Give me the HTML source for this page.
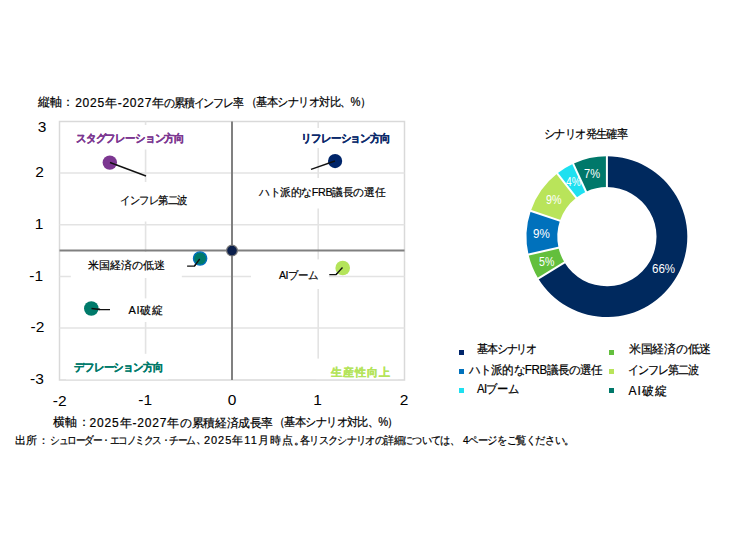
<!DOCTYPE html>
<html><head><meta charset="utf-8">
<style>
html,body{margin:0;padding:0;background:#fff;}
body{width:735px;height:551px;position:relative;overflow:hidden;font-family:"Liberation Sans",sans-serif;color:#000;}
svg{position:absolute;left:0;top:0;}
.t{position:absolute;white-space:nowrap;line-height:1;transform-origin:0 0;-webkit-text-stroke:0.2px currentColor;}
.b{font-weight:bold;-webkit-text-stroke:0.25px currentColor;}
.w{color:#fff;-webkit-text-stroke:0;}
.n{-webkit-text-stroke:0;}
</style></head><body>
<svg width="735" height="551" viewBox="0 0 735 551">
  <!-- plot border -->
  <rect x="59.5" y="121.5" width="345" height="258.5" fill="#fff" stroke="#d9d9d9" stroke-width="1.5"/>
  <!-- gridlines -->
  <g stroke="#e3e3e3" stroke-width="1.6">
    <line x1="145.6" y1="121.5" x2="145.6" y2="380"/>
    <line x1="318.2" y1="121.5" x2="318.2" y2="380"/>
    <line x1="59.5" y1="173" x2="404.5" y2="173"/>
    <line x1="59.5" y1="224.7" x2="404.5" y2="224.7"/>
    <line x1="59.5" y1="276.5" x2="404.5" y2="276.5"/>
    <line x1="59.5" y1="328" x2="404.5" y2="328"/>
  </g>
  <!-- label white boxes -->
  <g fill="#fff">
    <rect x="72" y="125" width="116" height="24.5"/>
    <rect x="296" y="128" width="96" height="20"/>
    <rect x="254" y="178" width="136" height="30.5"/>
    <rect x="116" y="182" width="76" height="39.5"/>
    <rect x="70.8" y="252" width="111" height="26"/>
    <rect x="251" y="259.4" width="77.8" height="29.6"/>
    <rect x="122" y="298.4" width="46" height="23.6"/>
    <rect x="66" y="353.8" width="102" height="25.5"/>
    <rect x="316" y="358.6" width="82" height="20.5"/>
  </g>
  <!-- axes -->
  <g stroke="#808080" stroke-width="2">
    <line x1="232" y1="121.5" x2="232" y2="380"/>
    <line x1="59.5" y1="250.6" x2="404.5" y2="250.6"/>
  </g>
  <!-- leader lines -->
  <g stroke="#111" stroke-width="1.35" fill="none">
    <line x1="110" y1="162.5" x2="146" y2="176"/>
    <line x1="335" y1="161" x2="311" y2="169.3"/>
    <polyline points="342.5,267.5 336,274.6 329.3,274.6"/>
    <polyline points="199.7,259 194.4,266.1 187.1,266.1"/>
    <polyline points="91.5,308.5 100,309.5 110,309.7"/>
  </g>
  <!-- dots -->
  <circle cx="109.8" cy="162.6" r="7.2" fill="#7c3791"/>
  <circle cx="335.1" cy="161.1" r="7.1" fill="#00256a"/>
  <circle cx="342.7" cy="268" r="7.3" fill="#b4e45a"/>
  <circle cx="200.1" cy="258.5" r="6.6" fill="#007a6a" stroke="#0070c0" stroke-width="1.4"/>
  <circle cx="91.3" cy="308.5" r="7.25" fill="#007a6a"/>
  <circle cx="232" cy="250.6" r="5.4" fill="#0b1f4b" stroke="#7a7a7a" stroke-width="1.2"/>
  <!-- redraw leader segments over dots -->
  <g stroke="#111" stroke-width="1.35" fill="none">
    <line x1="110" y1="162.5" x2="117" y2="165.1"/>
    <line x1="335" y1="161" x2="328" y2="163.4"/>
    <polyline points="342.5,267.5 336,274.6"/>
    <polyline points="199.7,259 194.4,266.1"/>
    <polyline points="91.5,308.5 100,309.5"/>
  </g>
  <!-- donut -->
  <g id="donut">
<path d="M606.90,156.30A80.4,80.4 0 1 1 538.22,278.49L564.53,262.48A49.6,49.6 0 1 0 606.90,187.10Z" fill="#00295e"/>
<path d="M538.22,278.49A80.4,80.4 0 0 1 528.51,254.58L558.54,247.73A49.6,49.6 0 0 0 564.53,262.48Z" fill="#63bf3d"/>
<path d="M528.51,254.58A80.4,80.4 0 0 1 530.75,210.90L559.92,220.78A49.6,49.6 0 0 0 558.54,247.73Z" fill="#0071bc"/>
<path d="M530.75,210.90A80.4,80.4 0 0 1 557.22,173.48L576.25,197.70A49.6,49.6 0 0 0 559.92,220.78Z" fill="#b9e45a"/>
<path d="M557.22,173.48A80.4,80.4 0 0 1 573.13,163.74L586.06,191.69A49.6,49.6 0 0 0 576.25,197.70Z" fill="#1ee0f0"/>
<path d="M573.13,163.74A80.4,80.4 0 0 1 606.90,156.30L606.90,187.10A49.6,49.6 0 0 0 586.06,191.69Z" fill="#00786a"/>
<line x1="606.90" y1="189.10" x2="606.90" y2="154.30" stroke="#fff" stroke-width="2"/>
<line x1="566.24" y1="261.44" x2="536.51" y2="279.53" stroke="#fff" stroke-width="2"/>
<line x1="560.49" y1="247.29" x2="526.56" y2="255.03" stroke="#fff" stroke-width="2"/>
<line x1="561.82" y1="221.42" x2="528.86" y2="210.25" stroke="#fff" stroke-width="2"/>
<line x1="577.49" y1="199.27" x2="555.99" y2="171.91" stroke="#fff" stroke-width="2"/>
<line x1="586.90" y1="193.50" x2="572.28" y2="161.92" stroke="#fff" stroke-width="2"/>
</g>
</svg>

<!-- titles -->
<div class="t" id="t1a" style="left:37.68px;top:96.04px;font-size:12px;letter-spacing:0.400px;">縦軸：</div>
<div class="t" id="t1b" style="left:75.19px;top:96.69px;font-size:12px;letter-spacing:0.760px;">2025年-2027年</div>
<div class="t" id="t1d" style="left:164.04px;top:96.69px;font-size:12px;letter-spacing:-1.195px;transform:scaleX(0.9129);">の累積インフレ率</div>
<div class="t" id="t1c" style="left:245.71px;top:95.89px;font-size:12px;letter-spacing:-0.786px;transform:scaleX(0.9325);">（基本シナリオ対比、%）</div>

<!-- y labels -->
<div class="t n" id="y3" style="left:37.69px;top:119.25px;font-size:15.5px;">3</div>
<div class="t n" id="y2" style="left:35.32px;top:164.48px;font-size:15.5px;">2</div>
<div class="t n" id="y1" style="left:34.79px;top:216.48px;font-size:15.5px;">1</div>
<div class="t n" id="ym1" style="left:29.37px;top:267.73px;font-size:15.5px;">-1</div>
<div class="t n" id="ym2" style="left:30.58px;top:319.25px;font-size:15.5px;">-2</div>
<div class="t n" id="ym3" style="left:30.00px;top:370.75px;font-size:15.5px;">-3</div>

<!-- x labels -->
<div class="t n" id="xm2" style="left:52.77px;top:392.50px;font-size:15.5px;">-2</div>
<div class="t n" id="xm1" style="left:138.26px;top:392.21px;font-size:15.5px;">-1</div>
<div class="t n" id="x0" style="left:227.68px;top:392.21px;font-size:15.5px;">0</div>
<div class="t n" id="x1" style="left:313.16px;top:392.21px;font-size:15.5px;">1</div>
<div class="t n" id="x2" style="left:399.80px;top:392.21px;font-size:15.5px;">2</div>

<div class="t" id="t2a" style="left:53.18px;top:416.04px;font-size:12px;letter-spacing:0.300px;">横軸：</div>
<div class="t" id="t2b" style="left:89.60px;top:416.69px;font-size:12px;letter-spacing:0.830px;">2025年-2027年</div>
<div class="t" id="t2d" style="left:179.79px;top:416.69px;font-size:12px;letter-spacing:-0.201px;transform:scaleX(0.9853);">の累積経済成長率</div>
<div class="t" id="t2c" style="left:274.48px;top:415.89px;font-size:12px;letter-spacing:-0.805px;transform:scaleX(0.9314);">（基本シナリオ対比、%）</div>
<div class="t" id="t3a" style="left:14.89px;top:434.75px;font-size:11px;letter-spacing:0.450px;">出所：</div>
<div class="t" id="t3b" style="left:50.28px;top:435.00px;font-size:11px;letter-spacing:-1.358px;transform:scaleX(0.8826);">シュローダー・エコノミクス・チーム</div>
<div class="t" id="t3f" style="left:196.29px;top:433.50px;font-size:11px;">、</div>
<div class="t" id="t3c" style="left:203.89px;top:434.75px;font-size:11px;letter-spacing:1.000px;">2025年11月時点。</div>
<div class="t" id="t3d" style="left:300.20px;top:434.75px;font-size:11px;letter-spacing:-0.868px;transform:scaleX(0.9229);">各リスクシナリオの詳細については、</div>
<div class="t" id="t3e" style="left:462.70px;top:434.75px;font-size:11px;letter-spacing:-0.709px;transform:scaleX(0.9350);">4ページをご覧ください。</div>

<!-- chart labels -->
<div class="t b" id="l1" style="left:76.14px;top:133.07px;font-size:11px;color:#7c3791;letter-spacing:-0.626px;transform:scaleX(0.9478);">スタグフレーション方向</div>
<div class="t b" id="l2" style="left:300.55px;top:132.79px;font-size:11px;color:#0b2a6b;letter-spacing:-0.589px;transform:scaleX(0.9509);">リフレーション方向</div>
<div class="t" id="l3" style="left:258.78px;top:187.04px;font-size:11px;letter-spacing:-0.240px;transform:scaleX(0.9782);">ハト派的なFRB議長の選任</div>
<div class="t" id="l4" style="left:120.09px;top:195.39px;font-size:11px;letter-spacing:-0.818px;transform:scaleX(0.9354);">インフレ第二波</div>
<div class="t" id="l5" style="left:88.00px;top:259.89px;font-size:11px;letter-spacing:0.017px;">米国経済の低迷</div>
<div class="t" id="l6" style="left:278.78px;top:269.6px;font-size:11px;letter-spacing:-0.486px;transform:scaleX(0.9548);">AIブーム</div>
<div class="t" id="l7" style="left:128.39px;top:305.14px;font-size:11px;letter-spacing:0.800px;">AI破綻</div>
<div class="t b" id="l8" style="left:73.56px;top:361.82px;font-size:11px;color:#007a6a;letter-spacing:-0.615px;transform:scaleX(0.9498);">デフレーション方向</div>
<div class="t b" id="l9" style="left:330.68px;top:367.43px;font-size:11px;color:#b4e45a;letter-spacing:1.075px;">生産性向上</div>

<!-- donut title -->
<div class="t" id="dt" style="left:544.48px;top:128.07px;font-size:12px;letter-spacing:-0.886px;transform:scaleX(0.9347);">シナリオ発生確率</div>

<!-- donut labels -->
<div class="t w" id="p66" style="left:651.85px;top:263.39px;font-size:12px;transform:scaleX(0.9609);">66%</div>
<div class="t w" id="p5" style="left:539.00px;top:256.43px;font-size:12px;transform:scaleX(0.8824);">5%</div>
<div class="t w" id="p9a" style="left:533.31px;top:228.25px;font-size:12px;transform:scaleX(0.9688);">9%</div>
<div class="t w" id="p9b" style="left:546.00px;top:194.39px;font-size:12px;transform:scaleX(0.8941);">9%</div>
<div class="t w" id="p4" style="left:565.57px;top:176.29px;font-size:12px;transform:scaleX(0.8471);">4%</div>
<div class="t w" id="p7" style="left:584.44px;top:168.43px;font-size:12px;transform:scaleX(0.9235);">7%</div>

<!-- legend -->
<div style="position:absolute;left:459px;top:350px;width:5px;height:5px;background:#00256a"></div>
<div style="position:absolute;left:459px;top:369px;width:5px;height:5px;background:#0071bc"></div>
<div style="position:absolute;left:459px;top:388px;width:5px;height:5px;background:#1ee0f0"></div>
<div style="position:absolute;left:609px;top:350px;width:5px;height:5px;background:#63bf3d"></div>
<div style="position:absolute;left:609px;top:369px;width:5px;height:5px;background:#b9e45a"></div>
<div style="position:absolute;left:609px;top:387.5px;width:5px;height:5px;background:#00786a"></div>
<div class="t" id="g1" style="left:477.11px;top:343.04px;font-size:12px;letter-spacing:-1.212px;transform:scaleX(0.9147);">基本シナリオ</div>
<div class="t" id="g2" style="left:469.41px;top:364.04px;font-size:12px;letter-spacing:-0.428px;transform:scaleX(0.9643);">ハト派的なFRB議長の選任</div>
<div class="t" id="g3" style="left:477.36px;top:382.54px;font-size:12px;letter-spacing:-0.669px;transform:scaleX(0.9431);">AIブーム</div>
<div class="t" id="g4" style="left:628.50px;top:343.39px;font-size:12px;letter-spacing:-0.151px;transform:scaleX(0.9892);">米国経済の低迷</div>
<div class="t" id="g5" style="left:627.68px;top:364.00px;font-size:12px;letter-spacing:-1.093px;transform:scaleX(0.9210);">インフレ第二波</div>
<div class="t" id="g6" style="left:628.50px;top:385.00px;font-size:12px;letter-spacing:0.933px;">AI破綻</div>
<script>
(function(){
var W={"t1a":37.2,"t1b":89.75,"t1d":86.45,"t1c":133.25,"t2a":36.91,"t2b":90.53,"t2d":94.41,"t2c":133.02,"t3a":34.36,"t3b":163.92,"t3f":11,"t3c":101.89,"t3d":172.25,"t3e":118.63,"l1":114.13,"l2":93.7,"l3":128.89,"l4":71.28,"l5":77.13,"l6":40.97,"l7":35.59,"l8":93.47,"l9":60.38,"dt":88.92,"g1":64.73,"g2":138.44,"g3":44,"g4":82.95,"g5":76.36,"g6":39.08};
for(var id in W){var el=document.getElementById(id);if(!el)continue;
var tr=el.style.transform||'';el.style.transform='none';
var w=el.getBoundingClientRect().width;el.style.transform=tr;
if(!(w>0))continue;var r=W[id]/w;if(Math.abs(r-1)<0.015)continue;
var m=/scaleX\(([0-9.]+)\)/.exec(tr);var sc=m?parseFloat(m[1]):1;
el.style.transform='scaleX('+(sc*r).toFixed(4)+')';}
})();
</script>
</body></html>
